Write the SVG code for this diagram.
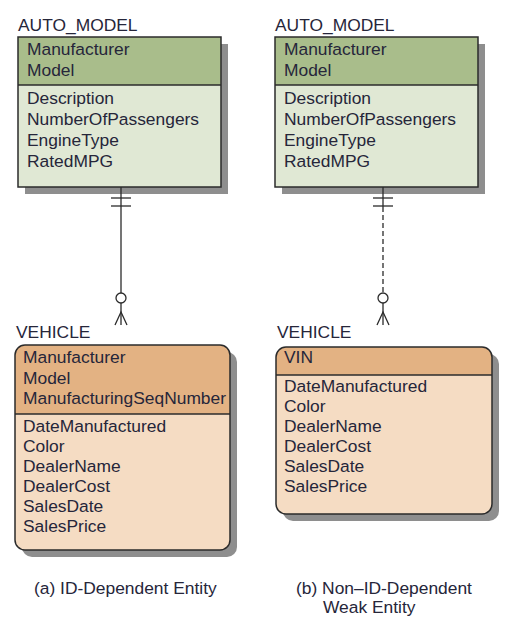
<svg xmlns="http://www.w3.org/2000/svg" width="512" height="642" viewBox="0 0 512 642">
<style>
text{font-family:"Liberation Sans",Arial,sans-serif;font-size:17.4px;fill:#26263a}
.shadow{fill:#8e8e8e}
.gh{fill:#a9bd8b}
.gb{fill:#e0e8d4}
.oh{fill:#e3b283}
.ob{fill:#f5dcc3}
.edge{fill:none;stroke:#2b2b2b;stroke-width:1.5}
.div{stroke:#2b2b2b;stroke-width:1.5}
.line{stroke:#2b2b2b;stroke-width:1.3;fill:none}
</style>
<defs>
<clipPath id="clipL"><rect x="15" y="345" width="215" height="205" rx="10"/></clipPath>
<clipPath id="clipR"><rect x="276" y="347" width="216" height="167" rx="10"/></clipPath>
</defs>
<rect width="512" height="642" fill="#ffffff"/>

<g id="auto_model_a">
<text x="18" y="31">AUTO_MODEL</text>
<rect class="shadow" x="25" y="44" width="203" height="150"/>
<rect class="gb" x="18" y="37" width="203" height="150"/>
<rect class="gh" x="18" y="37" width="203" height="48"/>
<line class="div" x1="18" y1="85" x2="221" y2="85"/>
<rect class="edge" x="18" y="37" width="203" height="150"/>
<text x="27" y="55">Manufacturer</text>
<text x="27" y="76">Model</text>
<text x="27" y="104">Description</text>
<text x="27" y="125">NumberOfPassengers</text>
<text x="27" y="146">EngineType</text>
<text x="27" y="167">RatedMPG</text>
</g>

<g id="auto_model_b">
<text x="275" y="31">AUTO_MODEL</text>
<rect class="shadow" x="282" y="44" width="203" height="150"/>
<rect class="gb" x="275" y="37" width="203" height="150"/>
<rect class="gh" x="275" y="37" width="203" height="48"/>
<line class="div" x1="275" y1="85" x2="478" y2="85"/>
<rect class="edge" x="275" y="37" width="203" height="150"/>
<text x="284" y="55">Manufacturer</text>
<text x="284" y="76">Model</text>
<text x="284" y="104">Description</text>
<text x="284" y="125">NumberOfPassengers</text>
<text x="284" y="146">EngineType</text>
<text x="284" y="167">RatedMPG</text>
</g>

<g id="vehicle_a">
<text x="16" y="338">VEHICLE</text>
<rect class="shadow" x="22" y="352" width="215" height="205" rx="10"/>
<g clip-path="url(#clipL)">
<rect class="ob" x="15" y="345" width="215" height="205"/>
<rect class="oh" x="15" y="345" width="215" height="69"/>
</g>
<line class="div" x1="15" y1="414" x2="230" y2="414"/>
<rect class="edge" x="15" y="345" width="215" height="205" rx="10"/>
<text x="23" y="363">Manufacturer</text>
<text x="23" y="384">Model</text>
<text x="23" y="404">ManufacturingSeqNumber</text>
<text x="23" y="432">DateManufactured</text>
<text x="23" y="452">Color</text>
<text x="23" y="472">DealerName</text>
<text x="23" y="492">DealerCost</text>
<text x="23" y="512">SalesDate</text>
<text x="23" y="532">SalesPrice</text>
</g>

<g id="vehicle_b">
<text x="277" y="338">VEHICLE</text>
<rect class="shadow" x="283" y="354" width="216" height="167" rx="10"/>
<g clip-path="url(#clipR)">
<rect class="ob" x="276" y="347" width="216" height="167"/>
<rect class="oh" x="276" y="347" width="216" height="28"/>
</g>
<line class="div" x1="276" y1="375" x2="492" y2="375"/>
<rect class="edge" x="276" y="347" width="216" height="167" rx="10"/>
<text x="284" y="363">VIN</text>
<text x="284" y="392">DateManufactured</text>
<text x="284" y="412">Color</text>
<text x="284" y="432">DealerName</text>
<text x="284" y="452">DealerCost</text>
<text x="284" y="472">SalesDate</text>
<text x="284" y="492">SalesPrice</text>
</g>

<g id="connectors">
<g id="rel_a">
<line class="line" x1="121" y1="187" x2="121" y2="293"/>
<line class="line" x1="111" y1="198" x2="131" y2="198"/>
<line class="line" x1="111" y1="206" x2="131" y2="206"/>
<circle class="line" cx="121" cy="298" r="5" fill="#ffffff"/>
<line class="line" x1="121" y1="303" x2="121" y2="325"/>
<polyline class="line" points="115,325 121,312 127,325"/>
</g>
<g id="rel_b">
<line class="line" x1="383" y1="187" x2="383" y2="207"/>
<line class="line" x1="383" y1="207" x2="383" y2="293" stroke-dasharray="5,3"/>
<line class="line" x1="373" y1="198" x2="393" y2="198"/>
<line class="line" x1="373" y1="206" x2="393" y2="206"/>
<circle class="line" cx="383" cy="298" r="5" fill="#ffffff"/>
<line class="line" x1="383" y1="303" x2="383" y2="325"/>
<polyline class="line" points="377,325 383,312 389,325"/>
</g>
</g>

<g id="captions">
<text x="34" y="594">(a) ID-Dependent Entity</text>
<text x="296" y="594">(b) Non–ID-Dependent</text>
<text x="323" y="613">Weak Entity</text>
</g>
</svg>
